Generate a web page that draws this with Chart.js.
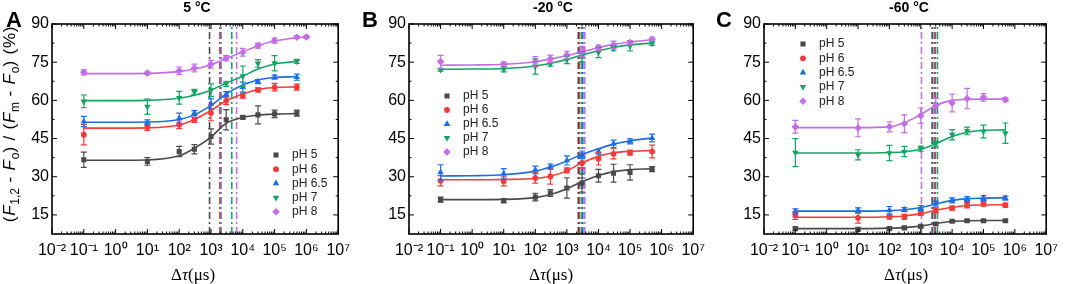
<!DOCTYPE html>
<html>
<head>
<meta charset="utf-8">
<script src="https://cdn.jsdelivr.net/npm/chart.js@4.4.0/dist/chart.umd.min.js"></script>
<style>
  body { margin: 0; background: #fff; }
  #wrap { position: relative; width: 1065px; height: 284px; font-family: 'Liberation Sans', Arial, sans-serif; color: #000; }
  .panel { position: absolute; top: 0; }
  .lbl { position: absolute; white-space: nowrap; line-height: 1; }
  .letter { font-weight: bold; font-size: 22px; }
  .ttl { font-weight: bold; font-size: 14px; transform: translateX(-50%); }
  .xt { font-family: 'Liberation Serif', 'Times New Roman', serif; font-size: 17px; transform: translateX(-50%); }
  .yt { font-size: 17px; letter-spacing: 0.8px; width: 260px; text-align: center; transform: rotate(-90deg); }
  .yt sub { font-size: 12px; vertical-align: -4px; letter-spacing: 0; }
</style>
</head>
<body>
<div id="wrap">
  <canvas id="chartA" class="panel" style="left:0px" width="357" height="284"></canvas>
  <canvas id="chartB" class="panel" style="left:357px" width="355" height="284"></canvas>
  <canvas id="chartC" class="panel" style="left:712px" width="353" height="284"></canvas>

  <div class="lbl letter" style="left:6px;top:9px">A</div>
  <div class="lbl letter" style="left:362px;top:9px">B</div>
  <div class="lbl letter" style="left:716px;top:9px">C</div>

  <div class="lbl ttl" style="left:197px;top:0px">5 °C</div>
  <div class="lbl ttl" style="left:553px;top:0px">-20 °C</div>
  <div class="lbl ttl" style="left:909px;top:0px">-60 °C</div>

  <div class="lbl yt" style="left:-119px;top:114px">(<i>F</i><sub>1,2</sub> - <i>F</i><sub>o</sub>) / (<i>F</i><sub>m</sub> - <i>F</i><sub>o</sub>) (%)</div>

  <div class="lbl xt" style="left:193px;top:266px">Δ<i>τ</i>(μs)</div>
  <div class="lbl xt" style="left:551px;top:266px">Δ<i>τ</i>(μs)</div>
  <div class="lbl xt" style="left:906px;top:266px">Δ<i>τ</i>(μs)</div>
</div>

<script>
const delays = [0.1, 10, 100, 300, 1e3, 3e3, 1e4, 3e4, 1e5, 5e5];
const delaysLong = [0.1, 10, 100, 300, 1e3, 3e3, 1e4, 3e4, 1e5, 5e5, 1e6];
const fitX = [0.1, 1, 10, 100, 300, 1e3, 3e3, 1e4, 3e4, 1e5, 5e5];
const fitXLong = [0.1, 1, 10, 100, 300, 1e3, 3e3, 1e4, 3e4, 1e5, 5e5, 1e6];

const phLabels = ['pH 5', 'pH 6', 'pH 6.5', 'pH 7', 'pH 8'];
const xTickExps = [-2, -1, 0, 1, 2, 3, 4, 5, 6, 7];
const yTicks = [15, 30, 45, 60, 75, 90];
const yMin = 7.5, yMax = 90;

// panel A, 5 °C
const meanA = [
  [36.7, 36.0, 39.9, 40.8, 45.8, 52.4, 53.3, 54.3, 54.7, 55.0],
  [46.5, 49.5, 50.4, 52.3, 55.0, 59.8, 61.9, 64.1, 65.2, 65.2],
  [51.7, 51.3, 53.0, 55.0, 58.6, 62.4, 65.2, 67.4, 69.1, 69.1],
  [59.6, 57.5, 61.0, 63.3, 64.0, 66.5, 69.5, 74.5, 74.6, 75.3],
  [71.0, 70.7, 71.6, 72.7, 74.2, 76.6, 78.9, 81.5, 83.5, 84.8, 84.9]
];
const errA = [
  [3, 1.5, 2, 1.8, 3, 4, 0.5, 3.5, 1.5, 1.2],
  [4, 1.3, 1.5, 1, 3, 1.5, 1, 0.8, 1.5, 1.2],
  [2, 1, 2, 1, 2, 1, 2, 0.8, 0.8, 1.2],
  [2.5, 3, 2.5, 1, 2.5, 1, 4, 1.5, 3, 0.8],
  [1, 0.5, 1.5, 1.5, 1.5, 1, 1.5, 1, 1, 0.5, 0.5]
];
const fitA = [
  [36.5, 36.5, 36.6, 38.2, 41.2, 45.6, 51.0, 53.3, 54.2, 54.6, 54.8],
  [49.1, 49.1, 49.2, 50.3, 52.5, 56.0, 59.8, 62.5, 64.3, 65.0, 65.3],
  [51.4, 51.4, 51.5, 52.5, 54.3, 58.0, 62.5, 66.0, 68.0, 69.0, 69.3],
  [59.9, 59.9, 60.0, 60.8, 62.0, 64.0, 66.8, 69.5, 72.3, 74.3, 75.3],
  [70.5, 70.5, 70.6, 71.3, 72.3, 74.0, 76.5, 79.0, 81.5, 83.3, 84.6, 84.9]
];
const tauA = [900, 1900, 2050, 4500, 6400];

// panel B, -20 °C
const meanB = [
  [21.0, 20.6, 22.0, 23.6, 25.6, 27.5, 30.4, 31.4, 31.7, 33.0],
  [28.4, 28.2, 29.5, 30.1, 32.5, 35.4, 37.1, 39.0, 39.5, 39.9],
  [31.7, 31.2, 32.7, 34.0, 36.4, 38.6, 39.9, 42.9, 43.9, 45.2],
  [72.0, 72.2, 73.3, 74.2, 75.9, 77.2, 78.8, 80.5, 81.4, 82.4],
  [75.2, 74.2, 75.2, 76.3, 77.8, 79.2, 80.7, 81.8, 82.7, 84.0]
];
const errB = [
  [1, 0.8, 1.5, 1.3, 4, 3.5, 2.5, 3.5, 3, 1],
  [2, 1.8, 2, 3, 1, 2, 2.5, 2, 1, 2.5],
  [3, 2, 1.5, 1, 1.8, 1.5, 1, 1.5, 1, 1.5],
  [0.5, 1, 3, 0.8, 1.5, 2, 2, 1, 2, 0.8],
  [2.5, 0.8, 2, 1.5, 1.5, 2, 1, 1.5, 0.8, 0.8]
];
const fitB = [
  [21.0, 21.0, 21.1, 21.8, 23.0, 25.3, 28.0, 30.5, 32.0, 32.8, 33.1],
  [28.8, 28.8, 28.9, 29.3, 30.2, 32.3, 35.5, 38.0, 39.4, 40.0, 40.3],
  [30.3, 30.4, 30.8, 32.2, 33.8, 36.2, 38.7, 41.0, 42.8, 44.1, 45.2],
  [72.2, 72.3, 72.5, 73.5, 74.6, 76.1, 77.8, 79.5, 80.8, 81.8, 82.5],
  [73.8, 73.9, 74.2, 75.2, 76.2, 77.6, 79.1, 80.7, 82.0, 82.9, 83.8]
];
const tauB = [2300, 2500, 3200, 2900, 3700];

// panel C, -60 °C
const meanC = [
  [9.6, 9.3, 9.6, 9.9, 10.5, 11.4, 12.5, 12.7, 12.7, 12.7],
  [14.7, 13.8, 14.2, 14.2, 15.8, 16.8, 17.7, 18.8, 19.4, 18.8],
  [16.4, 16.8, 16.8, 17.1, 17.7, 19.4, 20.7, 21.2, 21.6, 21.6],
  [39.5, 38.6, 39.3, 39.9, 41.0, 42.9, 46.5, 48.0, 47.8, 47.1],
  [49.6, 49.2, 49.6, 50.8, 54.0, 57.9, 59.0, 60.7, 61.2, 60.3]
];
const errC = [
  [0.5, 0.5, 0.5, 0.4, 0.4, 0.5, 0.4, 0.4, 0.4, 0.4],
  [1.5, 2, 0.8, 1, 1, 1, 0.8, 1, 1, 0.8],
  [1, 1, 1.5, 0.8, 1, 1, 1, 1, 1, 0.8],
  [5.5, 2, 3, 2, 1, 1, 2, 1.5, 2.5, 4],
  [2.5, 3.5, 2, 3.5, 3, 3, 3.5, 4, 1.5, 0.8]
];
const fitC = [
  [9.6, 9.6, 9.6, 9.8, 10.0, 10.6, 11.6, 12.4, 12.7, 12.8, 12.8],
  [14.1, 14.1, 14.1, 14.3, 14.6, 15.5, 16.8, 18.0, 18.7, 18.9, 19.0],
  [16.5, 16.5, 16.5, 16.7, 17.0, 17.9, 19.3, 20.7, 21.4, 21.6, 21.7],
  [39.3, 39.3, 39.3, 39.5, 39.8, 40.8, 43.0, 45.8, 47.5, 48.2, 48.4],
  [49.3, 49.3, 49.3, 49.6, 51.3, 54.4, 58.0, 60.0, 60.4, 60.5, 60.5]
];
const tauC = [2300, 2900, 2700, 3400, 1050];

const family = "'Liberation Sans', Arial, sans-serif";
const colors = ['#4a4a4a', '#f23b3b', '#1c6fe3', '#13a564', '#c46ee6'];
const shapes = [
  { style: 'rect', r: 3.6, rot: 0 },
  { style: 'circle', r: 2.9, rot: 0 },
  { style: 'triangle', r: 3.8, rot: 0 },
  { style: 'triangle', r: 3.8, rot: 180 },
  { style: 'rectRot', r: 3.8, rot: 0 }
];

const supDigits = { '-': '\u207B', '0': '\u2070', '1': '\u00B9', '2': '\u00B2', '3': '\u00B3',
  '4': '\u2074', '5': '\u2075', '6': '\u2076', '7': '\u2077', '8': '\u2078', '9': '\u2079' };
function powerLabel(v) {
  const e = String(Math.round(Math.log10(v)));
  return '10' + e.split('').map(c => supDigits[c]).join('');
}

// error bars with caps, drawn through the chart scales
const errorBars = {
  id: 'errorBars',
  afterDatasetsDraw(chart) {
    const { ctx, scales: { x, y } } = chart;
    ctx.save();
    ctx.lineWidth = 1.2;
    chart.data.datasets.forEach(ds => {
      if (!ds.errors) return;
      ctx.strokeStyle = ds.borderColor;
      ctx.beginPath();
      ds.data.forEach((p, k) => {
        const e = ds.errors[k];
        const px = x.getPixelForValue(p.x);
        const yt = y.getPixelForValue(p.y + e);
        const yb = y.getPixelForValue(p.y - e);
        ctx.moveTo(px, yt); ctx.lineTo(px, yb);
        ctx.moveTo(px - 3, yt); ctx.lineTo(px + 3, yt);
        ctx.moveTo(px - 3, yb); ctx.lineTo(px + 3, yb);
      });
      ctx.stroke();
    });
    ctx.restore();
  }
};

// closed frame with inward major/minor ticks on all four sides
const frame = {
  id: 'frame',
  afterDraw(chart) {
    const { ctx, chartArea: a, scales: { x, y } } = chart;
    ctx.save();
    ctx.strokeStyle = '#000';
    ctx.lineWidth = 1;
    ctx.beginPath();
    xTickExps.forEach(e => {
      for (let m = 1; m <= 9; m++) {
        const v = m * Math.pow(10, e);
        if (v > 1.0001e7) break;
        const px = x.getPixelForValue(v);
        const len = m === 1 ? 5 : 2.5;
        ctx.moveTo(px, a.bottom); ctx.lineTo(px, a.bottom - len);
        ctx.moveTo(px, a.top); ctx.lineTo(px, a.top + len);
      }
    });
    for (let v = 15; v <= yMax; v += 7.5) {
      const py = y.getPixelForValue(v);
      const len = v % 15 === 0 ? 5 : 2.5;
      ctx.moveTo(a.left, py); ctx.lineTo(a.left + len, py);
      ctx.moveTo(a.right, py); ctx.lineTo(a.right - len, py);
    }
    ctx.stroke();
    ctx.lineWidth = 1.6;
    ctx.strokeRect(a.left, a.top, a.right - a.left, a.bottom - a.top);
    ctx.restore();
  }
};

// legend placed inside the plot
const insideLegend = {
  id: 'insideLegend',
  afterDraw(chart, args, opts) {
    const ctx = chart.ctx;
    ctx.save();
    ctx.font = '12px ' + family;
    ctx.textBaseline = 'middle';
    let row = 0;
    chart.data.datasets.forEach(ds => {
      if (!ds.errors) return;
      const yy = opts.y + row * opts.step;
      ctx.fillStyle = ds.backgroundColor;
      ctx.strokeStyle = ds.backgroundColor;
      Chart.helpers.drawPoint(ctx, { pointStyle: ds.pointStyle, radius: ds.pointRadius, rotation: ds.pointRotation, borderWidth: 0 }, opts.x, yy);
      ctx.fillStyle = '#222';
      ctx.fillText(ds.label, opts.x + 16, yy);
      row++;
    });
    ctx.restore();
  }
};

function buildDatasets(means, errs, fits, taus) {
  const sets = [];
  phLabels.forEach((label, i) => {
    const xs = means[i].length === delays.length ? delays : delaysLong;
    const fx = fits[i].length === fitX.length ? fitX : fitXLong;
    sets.push({
      type: 'scatter', label, order: 0,
      data: means[i].map((v, k) => ({ x: xs[k], y: v })),
      errors: errs[i],
      backgroundColor: colors[i], borderColor: colors[i], borderWidth: 0,
      pointStyle: shapes[i].style, pointRadius: shapes[i].r, pointRotation: shapes[i].rot
    });
    sets.push({
      type: 'line', label: label + ' fit', order: 1,
      data: fits[i].map((v, k) => ({ x: fx[k], y: v })),
      borderColor: colors[i], borderWidth: 1.6, pointRadius: 0,
      cubicInterpolationMode: 'monotone', fill: false
    });
    sets.push({
      type: 'line', label: label + ' tau', order: 2,
      data: [{ x: taus[i], y: yMin }, { x: taus[i], y: yMax }],
      borderColor: colors[i], borderWidth: 1.6, borderDash: [7, 3, 2, 3], pointRadius: 0
    });
  });
  return sets;
}

function makePanel(id, means, errs, fits, taus, rightPad, legendPos) {
  return new Chart(document.getElementById(id), {
    type: 'scatter',
    data: { datasets: buildDatasets(means, errs, fits, taus) },
    options: {
      responsive: false,
      animation: false,
      events: [],
      layout: { padding: { top: 24, right: rightPad, left: 0, bottom: 0 }, autoPadding: false },
      plugins: {
        legend: { display: false },
        title: { display: false },
        tooltip: { enabled: false },
        insideLegend: legendPos
      },
      scales: {
        x: {
          type: 'logarithmic', min: 0.01, max: 1e7,
          afterBuildTicks: s => { s.ticks = xTickExps.map(e => ({ value: Math.pow(10, e) })); },
          afterFit: s => { s.height = 50; },
          grid: { display: false, drawTicks: false },
          border: { display: false },
          ticks: {
            autoSkip: false, maxRotation: 0, padding: 7, color: '#000',
            font: { size: 16, family },
            callback: v => powerLabel(v)
          }
        },
        y: {
          min: yMin, max: yMax,
          afterBuildTicks: s => { s.ticks = yTicks.map(v => ({ value: v })); },
          afterFit: s => { s.width = 52; },
          grid: { display: false, drawTicks: false },
          border: { display: false },
          ticks: { padding: 3, color: '#000', font: { size: 16, family } }
        }
      }
    },
    plugins: [errorBars, frame, insideLegend]
  });
}

makePanel('chartA', meanA, errA, fitA, tauA, 15, { x: 276, y: 155, step: 14.2 });
makePanel('chartB', meanB, errB, fitB, tauB, 14, { x: 90, y: 96, step: 14 });
makePanel('chartC', meanC, errC, fitC, tauC, 12, { x: 91, y: 44, step: 14.3 });
</script>
</body>
</html>
